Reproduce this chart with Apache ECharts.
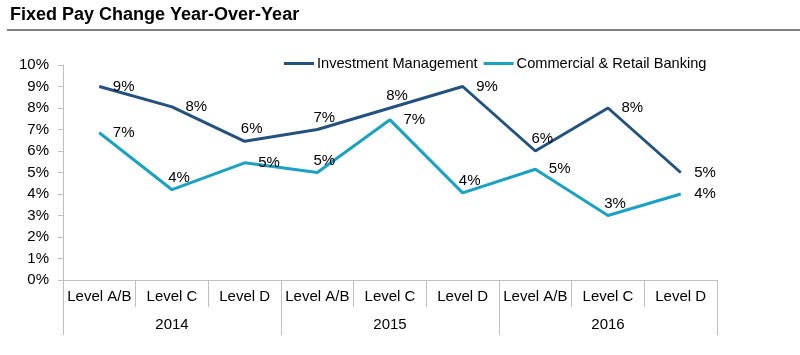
<!DOCTYPE html>
<html>
<head>
<meta charset="utf-8">
<script src="https://cdn.jsdelivr.net/npm/echarts@6/dist/echarts.min.js"></script>
<style>html,body{margin:0;padding:0;background:#fff}#c{width:800px;height:355px}</style>
</head>
<body>
<div id="c"></div>
<script>
const levels = ['Level A/B','Level C','Level D','Level A/B','Level C','Level D','Level A/B','Level C','Level D'];
const years = ['2014','2015','2016'];
const investmentMgmt = [9.0, 8.05, 6.45, 7.0, 8.0, 9.0, 6.0, 8.0, 5.0];
const commercialRetail = [6.85, 4.2, 5.45, 5.0, 7.45, 4.05, 5.15, 3.0, 4.0];
const imLabelSide = ['right','right','top','top','top','right','top','right','right'];
const crbLabelSide = ['right','top','right','top','right','top','right','top','right'];
const yTicks = [0,1,2,3,4,5,6,7,8,9,10];

const FONT = 'Liberation Sans, Arial, sans-serif';
const AXIS_GRAY = '#bfbfbf';

function buildData(values, sides) {
  return values.map((v, i) => ({
    value: v,
    label: sides[i] === 'top'
      ? { show: true, position: 'top', distance: 4, offset: [7, 0] }
      : { show: true, position: 'right', distance: 13 }
  }));
}

const chart = echarts.init(document.getElementById('c'), null, { renderer: 'canvas' });
chart.setOption({
  animation: false,
  backgroundColor: '#fff',
  textStyle: { fontFamily: FONT },
  title: {
    text: 'Fixed Pay Change Year-Over-Year',
    left: 10, top: 6, padding: 0,
    textStyle: { fontFamily: FONT, fontSize: 18, fontWeight: 'bold', color: '#000' }
  },
  graphic: [{
    type: 'line',
    shape: { x1: 7, y1: 30, x2: 800, y2: 30 },
    style: { stroke: '#808080', lineWidth: 2 }
  }],
  legend: {
    left: 284, top: 56, padding: 0,
    itemWidth: 30, itemHeight: 3, itemGap: 6,
    icon: 'rect',
    textStyle: { fontFamily: FONT, fontSize: 14.6, color: '#000', padding: [0, 0, 0, -2] },
    data: ['Investment Management', 'Commercial & Retail Banking']
  },
  grid: { left: 63, right: 83, top: 65, bottom: 75, containLabel: false },
  xAxis: [{
    type: 'category',
    data: levels,
    boundaryGap: true,
    position: 'bottom',
    axisLine: { show: true, lineStyle: { color: AXIS_GRAY, width: 1 } },
    axisTick: { show: true, interval: 0, length: 27, lineStyle: { color: AXIS_GRAY } },
    axisLabel: { interval: 0, margin: 9, fontFamily: FONT, fontSize: 15, color: '#000' }
  }, {
    type: 'category',
    data: years,
    boundaryGap: true,
    position: 'bottom',
    axisLine: { show: false },
    axisTick: { show: true, interval: 0, length: 55, lineStyle: { color: AXIS_GRAY } },
    axisLabel: { interval: 0, margin: 37, fontFamily: FONT, fontSize: 15, color: '#000' }
  }],
  yAxis: {
    type: 'value',
    min: yTicks[0], max: yTicks[yTicks.length - 1], interval: 1,
    axisLine: { show: true, lineStyle: { color: AXIS_GRAY } },
    axisTick: { show: true, length: 5, lineStyle: { color: AXIS_GRAY } },
    splitLine: { show: false },
    axisLabel: { formatter: '{value}%', margin: 14, fontFamily: FONT, fontSize: 15, color: '#000' }
  },
  series: [{
    name: 'Investment Management',
    type: 'line',
    xAxisIndex: 0,
    data: buildData(investmentMgmt, imLabelSide),
    symbol: 'circle',
    symbolSize: 1,
    showSymbol: true,
    lineStyle: { color: '#24527f', width: 3 },
    itemStyle: { color: '#24527f' },
    label: { show: true, fontFamily: FONT, fontSize: 15, color: '#000',
      formatter: p => Math.round(p.value) + '%' }
  }, {
    name: 'Commercial & Retail Banking',
    type: 'line',
    xAxisIndex: 0,
    data: buildData(commercialRetail, crbLabelSide),
    symbol: 'circle',
    symbolSize: 1,
    showSymbol: true,
    lineStyle: { color: '#1ba1c2', width: 3 },
    itemStyle: { color: '#1ba1c2' },
    label: { show: true, fontFamily: FONT, fontSize: 15, color: '#000',
      formatter: p => Math.round(p.value) + '%' }
  }]
});
</script>
</body>
</html>
